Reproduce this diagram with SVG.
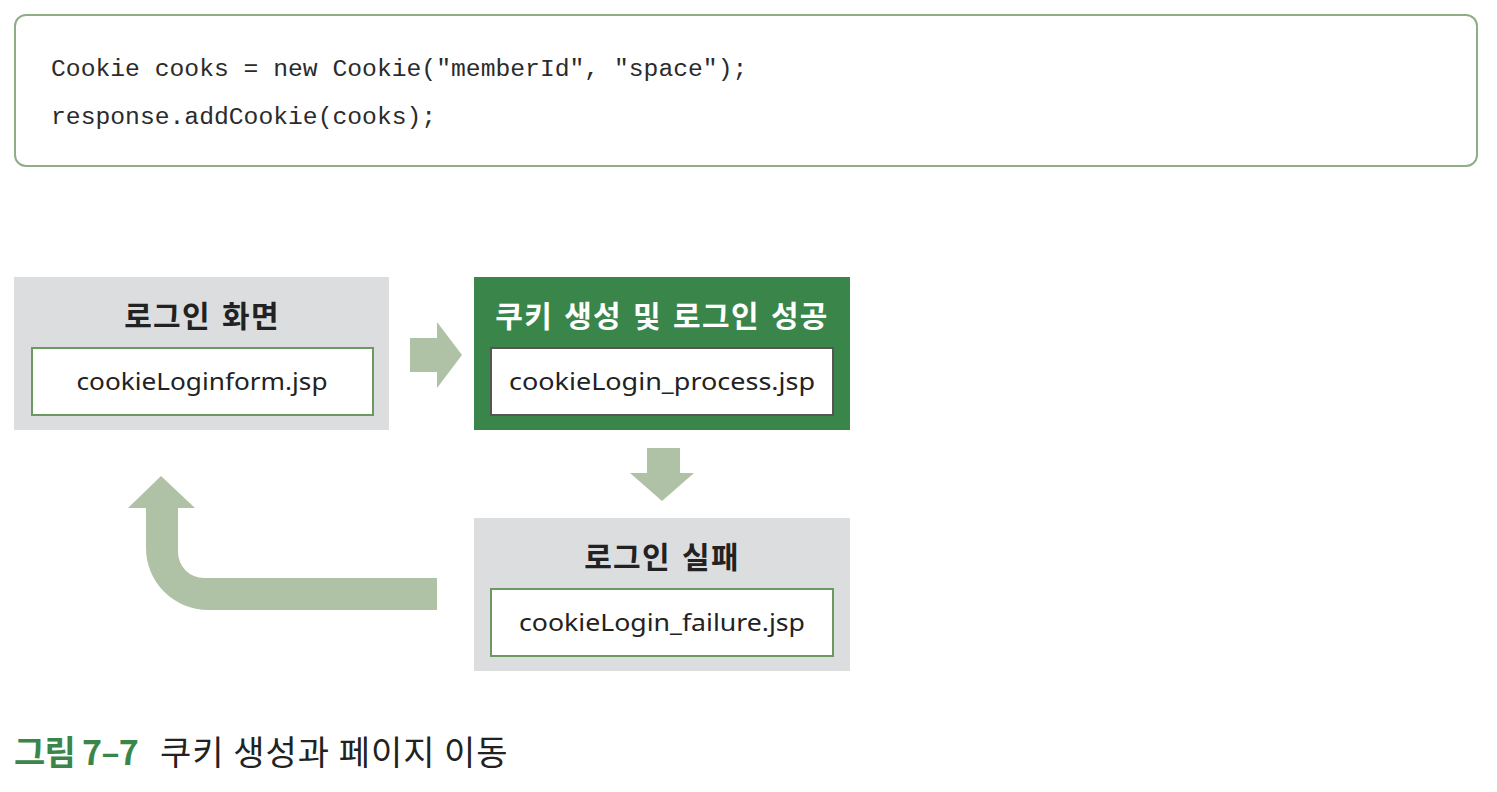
<svg xmlns="http://www.w3.org/2000/svg" width="1497" height="792" viewBox="0 0 1497 792">
<style>
.code{font-family:"Liberation Mono","DejaVu Sans Mono",monospace;font-size:24.7px;fill:#2b2b2b}
.title{font-family:"Noto Sans CJK KR","Noto Sans",sans-serif;font-size:30px;font-weight:700;letter-spacing:1.3px;word-spacing:3px;text-anchor:middle}
.file{font-family:"Noto Sans","Liberation Sans",sans-serif;font-size:24px;fill:#222;text-anchor:middle}
.gray{fill:#dcdddf}
.arrow{fill:#afc2a6}
</style>
<rect width="1497" height="792" fill="#ffffff"/>
<g id="code">
<rect x="15" y="15" width="1462" height="151" rx="11" fill="#ffffff" stroke="#8fae85" stroke-width="2"/>
<text class="code" x="51" y="76">Cookie cooks = new Cookie("memberId", "space");</text>
<text class="code" x="51" y="124">response.addCookie(cooks);</text>
</g>
<g id="connectors">
<polygon class="arrow" points="410,338 437,338 437,322 462,355 437,388 437,372 410,372"/>
<polygon class="arrow" points="647,448 680,448 680,473 694,473 662,501 630,473 647,473"/>
<path class="arrow" d="M437,578 L204,578 A26,26 0 0 1 178,552 L178,508 L195,508 L161,476 L128,508 L146,508 L146,548 A62,62 0 0 0 208,610 L437,610 Z"/>
</g>
<g id="node-login-form">
<rect class="gray" x="14" y="277" width="375" height="153"/>
<text class="title" x="202" y="327" fill="#222">로그인 화면</text>
<rect x="32" y="348" width="341" height="67" fill="#ffffff" stroke="#6a9a60" stroke-width="2"/>
<text class="file" x="202" y="390" textLength="251" lengthAdjust="spacingAndGlyphs">cookieLoginform.jsp</text>
</g>
<g id="node-login-process">
<rect x="474" y="277" width="376" height="153" fill="#3a864a"/>
<text class="title" x="662" y="327" fill="#ffffff">쿠키 생성 및 로그인 성공</text>
<rect x="491" y="348" width="342" height="67" fill="#ffffff" stroke="#555555" stroke-width="2"/>
<text class="file" x="662" y="390" textLength="306" lengthAdjust="spacingAndGlyphs">cookieLogin_process.jsp</text>
</g>
<g id="node-login-failure">
<rect class="gray" x="474" y="518" width="376" height="153"/>
<text class="title" x="662" y="568" fill="#222">로그인 실패</text>
<rect x="491" y="589" width="342" height="67" fill="#ffffff" stroke="#6a9a60" stroke-width="2"/>
<text class="file" x="662" y="631" textLength="286" lengthAdjust="spacingAndGlyphs">cookieLogin_failure.jsp</text>
</g>
<g id="caption">
<text x="14" y="765" font-family="Noto Sans CJK KR, Noto Sans, sans-serif" font-size="34" font-weight="700" letter-spacing="-0.8" fill="#3a864a">그림 7–7</text>
<text x="160" y="765" font-family="Noto Sans CJK KR, Noto Sans, sans-serif" font-size="34" letter-spacing="1" fill="#222">쿠키 생성과 페이지 이동</text>
</g>
</svg>
